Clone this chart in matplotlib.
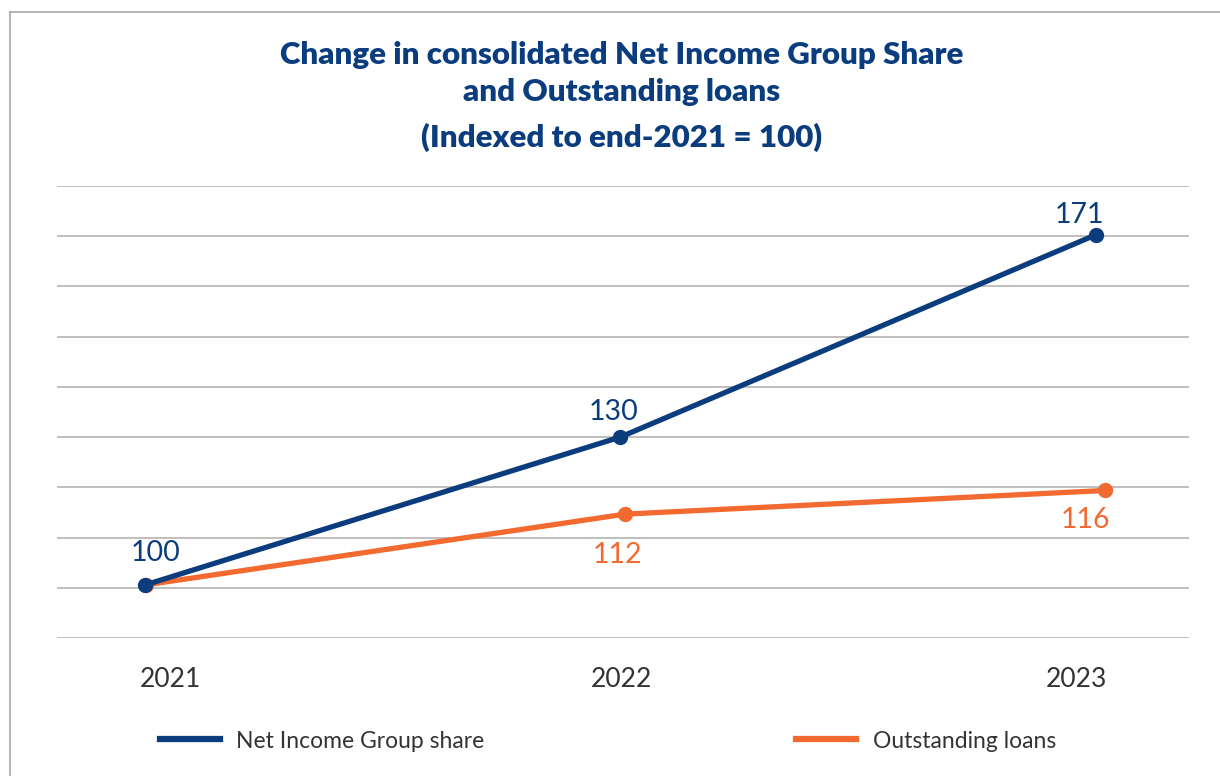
import matplotlib.pyplot as plt
from matplotlib.lines import Line2D
import numpy as np

plt.rcParams['font.family'] = ['Lato', 'DejaVu Sans']

years = ["2021", "2022", "2023"]
net_income = [100, 130, 171]
loans = [100, 112, 116]

blue = "#0b3d7e"
orange = "#f26a30"
grey_text = "#333333"

fig = plt.figure(figsize=(12.2, 7.76), dpi=100)

# frame of the panel: left and top edge only
fig.add_artist(Line2D([10 / 1220, 10 / 1220], [0, 1 - 12 / 776], color="#a8a8a8", lw=1.2))
fig.add_artist(Line2D([10 / 1220, 1], [1 - 12 / 776, 1 - 12 / 776], color="#a8a8a8", lw=1.2))

rect = [57 / 1220, 1 - 638 / 776, 1132 / 1220, 452 / 776]
ax = fig.add_axes(rect)          # gridlines + loans
ax2 = fig.add_axes(rect)         # net income on top
ax2.patch.set_alpha(0)

x = np.arange(len(years))

ax.set_xlim(-0.185, 2.175)
ax.set_ylim(91.0, 167.6)
ax2.set_xlim(-0.185, 2.196)
ax2.set_ylim(89.25, 180.9)

ax.set_yticks(np.linspace(91.0, 167.6, 10))
ax.yaxis.grid(True, color="#b4b4b4", lw=1.2)
ax2.set_yticks([])
for a in (ax, ax2):
    a.set_xticks([])
    a.tick_params(left=False, labelleft=False, bottom=False)
    for s in a.spines.values():
        s.set_visible(False)

ax.plot(x, loans, color=orange, lw=3.8, marker="o", ms=10, solid_capstyle="round")
ax2.plot(x, net_income, color=blue, lw=3.8, marker="o", ms=10, solid_capstyle="round")

# data labels
for xi, v, dx, dy in zip(x, net_income, [8, -5, -12], [14, 9, 5]):
    ax2.annotate(str(v), (xi, v), xytext=(dx, dy), textcoords="offset points",
                 ha="center", va="bottom", fontsize=20.5, color=blue)
for xi, v, dy in zip(x[1:], loans[1:], [-20, -12]):
    ax.annotate(str(v), (xi, v), xytext=(-6 if xi == 1 else -14, dy), textcoords="offset points",
                ha="center", va="top", fontsize=20.5, color=orange)

# year labels
for xi, yr, dx in zip(x, years, [18, 1, -14]):
    ax2.annotate(yr, (xi, 89.25), xytext=(dx, -30), textcoords="offset points",
                 ha="center", va="center", fontsize=19, color=grey_text,
                 annotation_clip=False)

title_lines = ["Change in consolidated Net Income Group Share",
               "and Outstanding loans",
               "(Indexed to end-2021 = 100)"]
for line, ty in zip(title_lines, [55, 92, 137]):
    fig.text(622 / 1220, 1 - ty / 776, line, ha="center", va="center",
             fontsize=22.5, fontweight="heavy", color=blue)

handles = [Line2D([], [], color=blue, lw=4.5), Line2D([], [], color=orange, lw=4.5)]
fig.legend(handles, ["Net Income Group share", "Outstanding loans"],
           loc="center left", bbox_to_anchor=(160 / 1220, 1 - 741 / 776),
           ncol=2, frameon=False, fontsize=16.5, handlelength=2.6,
           handletextpad=0.73, columnspacing=13.6, borderpad=0, borderaxespad=0,
           labelcolor=grey_text)

fig.savefig("out.png", dpi=100)
